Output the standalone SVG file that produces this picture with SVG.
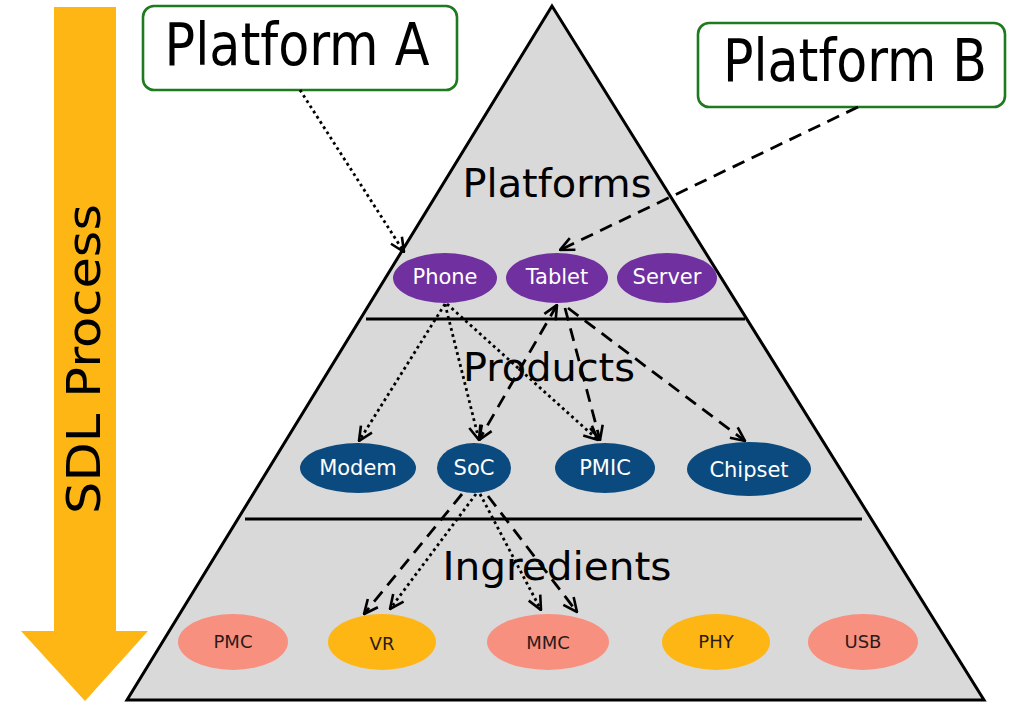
<svg xmlns="http://www.w3.org/2000/svg" width="1009" height="704" viewBox="0 0 1009 704">
<style>
text{font-family:"DejaVu Sans","Liberation Sans",sans-serif}
.big{font-family:"DejaVu Sans Condensed","DejaVu Sans",sans-serif;font-stretch:condensed;font-size:58px;fill:#000;text-anchor:middle}
.lvl{font-size:39px;fill:#000;text-anchor:middle}
.wt{fill:#fff;font-size:21px;text-anchor:middle}
.dk{fill:#2a1a1a;font-size:18px;text-anchor:middle}
.box{fill:#fff;stroke:#1f7a1f;stroke-width:2.6}
.pl{fill:#7030a0}
.pr{fill:#0b4a7e}
.sal{fill:#f8907f}
.org{fill:#fdb614}
.dot{fill:none;stroke:#000;stroke-width:2.8;stroke-dasharray:2.8 3.4}
.dash{fill:none;stroke:#000;stroke-width:2.8;stroke-dasharray:13 8}
</style>
<defs>
<marker id="ah" viewBox="0 0 16 16" refX="15" refY="8" markerWidth="16" markerHeight="16" markerUnits="userSpaceOnUse" orient="auto-start-reverse">
<path d="M1,1.5 L15,8 L1,14.5" fill="none" stroke="#000" stroke-width="2.6"/>
</marker>
</defs>
<g id="sdl-arrow">
<polygon points="54,7 116,7 116,631 148,631 85,701 21,631 54,631" fill="#fdb614"/>
<text transform="translate(100,359) rotate(-90)" x="0" y="0" font-size="46" text-anchor="middle" textLength="310" lengthAdjust="spacingAndGlyphs">SDL Process</text>
</g>
<g id="pyramid">
<polygon points="552,6 127,700 984,700" fill="#d9d9d9" stroke="#000" stroke-width="3" stroke-linejoin="miter"/>
<line x1="366" y1="319" x2="745" y2="319" stroke="#000" stroke-width="3.2"/>
<line x1="245" y1="519" x2="862" y2="519" stroke="#000" stroke-width="3.2"/>
<text class="lvl" x="557" y="197" textLength="189" lengthAdjust="spacingAndGlyphs">Platforms</text>
<text class="lvl" x="549" y="381" textLength="172" lengthAdjust="spacingAndGlyphs">Products</text>
<text class="lvl" x="557" y="580" textLength="229" lengthAdjust="spacingAndGlyphs">Ingredients</text>
</g>
<g id="platform-a">
<rect class="box" x="143" y="6" width="314" height="84" rx="11"/>
<text class="big" x="297" y="65" textLength="265" lengthAdjust="spacingAndGlyphs">Platform A</text>
</g>
<g id="platform-b">
<rect class="box" x="698" y="23" width="307" height="84" rx="11"/>
<text class="big" x="855" y="81" textLength="264" lengthAdjust="spacingAndGlyphs">Platform B</text>
</g>
<g id="phone"><ellipse class="pl" cx="445" cy="278" rx="52" ry="25"/><text class="wt" x="445" y="284">Phone</text></g>
<g id="tablet"><ellipse class="pl" cx="557" cy="278" rx="51" ry="25"/><text class="wt" x="557" y="284">Tablet</text></g>
<g id="server"><ellipse class="pl" cx="667" cy="278" rx="50" ry="25"/><text class="wt" x="667" y="284">Server</text></g>
<g id="modem"><ellipse class="pr" cx="358" cy="468" rx="58" ry="25"/><text class="wt" x="358" y="475">Modem</text></g>
<g id="soc"><ellipse class="pr" cx="474" cy="468" rx="37" ry="25"/><text class="wt" x="474" y="475">SoC</text></g>
<g id="pmic"><ellipse class="pr" cx="605" cy="468" rx="50" ry="25"/><text class="wt" x="605" y="475">PMIC</text></g>
<g id="chipset"><ellipse class="pr" cx="749" cy="469" rx="62" ry="27"/><text class="wt" x="749" y="477" font-size="24">Chipset</text></g>
<g id="pmc"><ellipse class="sal" cx="233" cy="642" rx="55" ry="28"/><text class="dk" x="233" y="648">PMC</text></g>
<g id="vr"><ellipse class="org" cx="382" cy="642" rx="54" ry="28"/><text class="dk" x="382" y="650" font-size="24">VR</text></g>
<g id="mmc"><ellipse class="sal" cx="548" cy="642" rx="61" ry="28"/><text class="dk" x="548" y="649" font-size="21">MMC</text></g>
<g id="phy"><ellipse class="org" cx="716" cy="642" rx="54" ry="28"/><text class="dk" x="716" y="648">PHY</text></g>
<g id="usb"><ellipse class="sal" cx="863" cy="642" rx="55" ry="28"/><text class="dk" x="863" y="648">USB</text></g>
<g id="connectors">
<line class="dot" x1="300" y1="90" x2="404" y2="252" marker-end="url(#ah)"/>
<line class="dash" x1="858" y1="107" x2="560" y2="250" marker-end="url(#ah)"/>
<line class="dot" x1="445" y1="304" x2="359" y2="441" marker-end="url(#ah)"/>
<line class="dot" x1="445" y1="304" x2="479" y2="440" marker-end="url(#ah)"/>
<line class="dot" x1="447" y1="304" x2="598" y2="440" marker-end="url(#ah)"/>
<line class="dash" x1="557" y1="305" x2="479" y2="440" marker-start="url(#ah)" marker-end="url(#ah)"/>
<line class="dash" x1="565" y1="308" x2="600" y2="440" marker-end="url(#ah)"/>
<line class="dash" x1="568" y1="308" x2="745" y2="441" marker-end="url(#ah)"/>
<line class="dash" x1="462" y1="494" x2="364" y2="614" marker-end="url(#ah)"/>
<line class="dot" x1="476" y1="494" x2="390" y2="609" marker-end="url(#ah)"/>
<line class="dot" x1="480" y1="494" x2="541" y2="610" marker-end="url(#ah)"/>
<line class="dash" x1="488" y1="496" x2="577" y2="612" marker-end="url(#ah)"/>
</g>
</svg>
